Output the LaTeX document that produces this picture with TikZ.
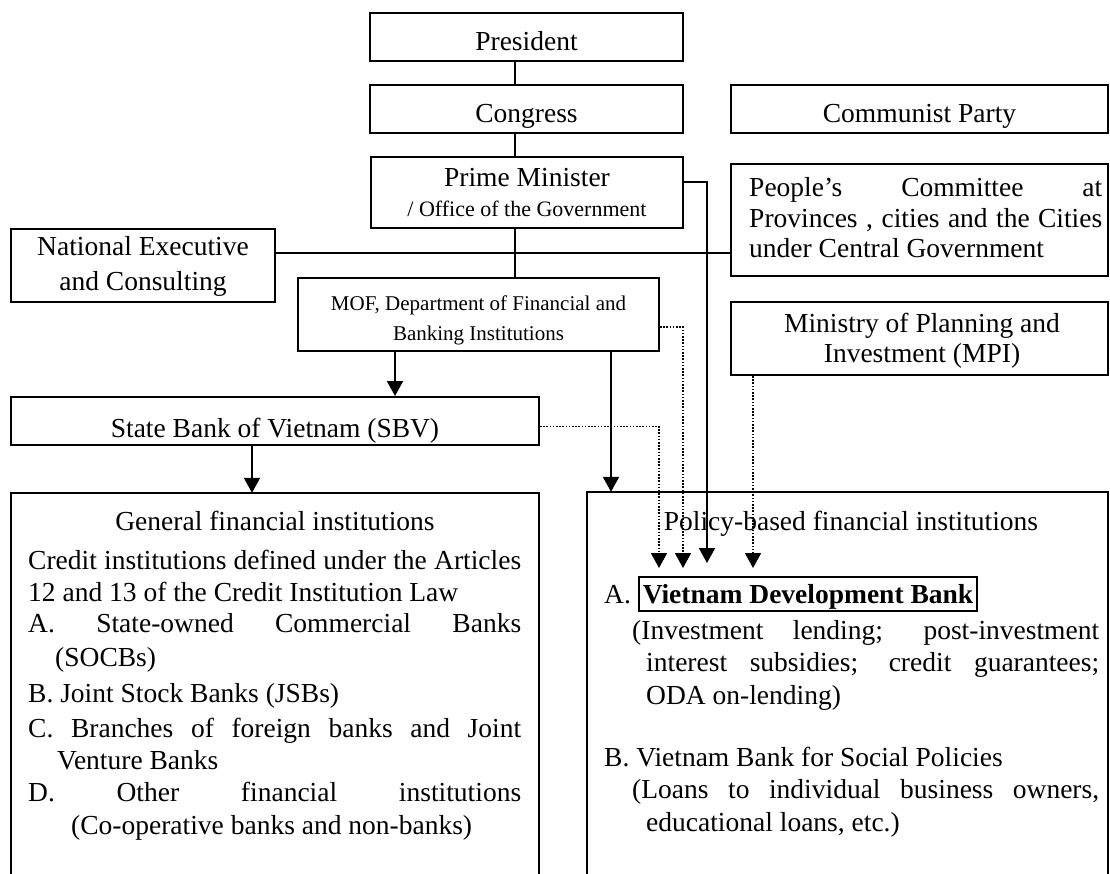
\documentclass[tikz,border=0pt]{standalone}
\usepackage{fontspec}
\setmainfont{Liberation Serif}
\usetikzlibrary{arrows.meta}
\newcommand\fsA{\fontsize{27.5}{33}\selectfont}
\newcommand\fsB{\fontsize{22}{26}\selectfont}
\newcommand\fsC{\fontsize{21}{25}\selectfont}
\tikzset{
  orgbox/.style={draw, line width=2pt, inner sep=0pt, font=\fsA},
  conn/.style={line width=2pt},
  arr/.style={conn, -{Triangle[length=15pt,width=16pt]}},
  dotarr/.style={line width=1.6pt, dash pattern=on 1.6pt off 1.6pt, -{Triangle[length=15pt,width=16pt]}},
  txt/.style={inner sep=0pt, anchor=base west},
  ctxt/.style={inner sep=0pt, anchor=base},
}
\begin{document}
\begin{tikzpicture}[x=1pt,y=-1pt]
\useasboundingbox (0,0) rectangle (1110,874);

% boxes
\node[orgbox, minimum width=313pt, minimum height=48pt, text height=27pt, text depth=0pt] (pres) at (526.5,37) {President};
\node[orgbox, minimum width=313pt, minimum height=48pt, text height=27pt, text depth=0pt] (cong) at (526.5,109) {Congress};
\node[orgbox, minimum width=377pt, minimum height=48pt, text height=27pt, text depth=0pt] (cp) at (919.5,109) {Communist Party};
\node[orgbox, minimum width=312pt, minimum height=71pt] (pm) at (527,192.5) {};
\node[orgbox, minimum width=377pt, minimum height=112pt] (pc) at (919.5,220) {};
\node[orgbox, minimum width=264pt, minimum height=73pt] (ne) at (143,265.5) {};
\node[orgbox, minimum width=361pt, minimum height=73pt] (mof) at (478.5,314.5) {};
\node[orgbox, minimum width=377pt, minimum height=73pt] (mpi) at (919.5,338.5) {};
\node[orgbox, minimum width=528pt, minimum height=48pt, text height=32pt, text depth=0pt] (sbv) at (275,421) {State Bank of Vietnam (SBV)};
\node[inner sep=0pt, minimum width=528pt, minimum height=381pt] (gen) at (275,683.5) {};
\node[inner sep=0pt, minimum width=521pt, minimum height=382pt] (pol) at (847.5,683) {};
\draw[conn] (gen.south west) -- (gen.north west) -- (gen.north east) -- (gen.south east);
\draw[conn] (pol.south west) -- (pol.north west) -- (pol.north east) -- (pol.south east);

% box texts
\node[ctxt] (pmt1) at (527,186.5) {\fsA Prime Minister};
\node[ctxt] (pmt2) at (527,217) {\fsB / Office of the Government};
\node[txt] (pct1) at (749,197) {\fsA\makebox[353pt][s]{People’s Committee at}};
\node[txt] (pct2) at (749,228) {\fsA\makebox[353pt][s]{Provinces , cities and the Cities}};
\node[txt] (pct3) at (749,258) {\fsA under Central Government};
\node[ctxt] (net1) at (143,256) {\fsA National Executive};
\node[ctxt] (net2) at (143,291) {\fsA and Consulting};
\node[ctxt] (moft1) at (478.5,310) {\fsC MOF, Department of Financial and};
\node[ctxt] (moft2) at (478.5,340) {\fsC Banking Institutions};
\node[ctxt] (mpit1) at (922,332) {\fsA Ministry of Planning and};
\node[ctxt] (mpit2) at (922,362) {\fsA Investment (MPI)};

% general financial institutions
\node[ctxt] (gt0) at (275,530) {\fsA General financial institutions};
\node[txt] (gt1) at (28,569) {\fsA\makebox[493pt][s]{Credit institutions defined under the Articles}};
\node[txt] (gt2) at (28,601) {\fsA 12 and 13 of the Credit Institution Law};
\node[txt] (gt3) at (28,632) {\fsA\makebox[493pt][s]{A. State-owned Commercial Banks}};
\node[txt] (gt4) at (55,666) {\fsA (SOCBs)};
\node[txt] (gt5) at (28,702) {\fsA B. Joint Stock Banks (JSBs)};
\node[txt] (gt6) at (28,737) {\fsA\makebox[493pt][s]{C. Branches of foreign banks and Joint}};
\node[txt] (gt7) at (57,769) {\fsA Venture Banks};
\node[txt] (gt8) at (28,801) {\fsA\makebox[493pt][s]{D. Other financial institutions}};
\node[txt] (gt9) at (71,834) {\fsA (Co-operative banks and non-banks)};

% policy-based financial institutions
\node[ctxt] (pt0) at (851,530) {\fsA Policy-based financial institutions};
\node[txt] (pta) at (604,603) {\fsA A.};
\node[orgbox, line width=1.8pt, minimum width=338pt, minimum height=34pt, text height=22pt, text depth=4pt, font=\fsA\bfseries] (vdb) at (808,594) {Vietnam Development Bank};
\node[txt] (pt1) at (632,639) {\fsA\makebox[467pt][s]{(Investment lending; post-investment}};
\node[txt] (pt2) at (646,671) {\fsA\makebox[453pt][s]{interest subsidies; credit guarantees;}};
\node[txt] (pt3) at (646,704) {\fsA ODA on-lending)};
\node[txt] (pt4) at (604,766) {\fsA B. Vietnam Bank for Social Policies};
\node[txt] (pt5) at (632,798) {\fsA\makebox[467pt][s]{(Loans to individual business owners,}};
\node[txt] (pt6) at (646,831) {\fsA educational loans, etc.)};

% connectors
\coordinate (cx) at (515,0);
\draw[conn] (pres.south -| cx) -- (cong.north -| cx);
\draw[conn] (cong.south -| cx) -- (pm.north -| cx);
\draw[conn] (pm.south -| cx) -- (mof.north -| cx);
\coordinate (ly) at (0,253);
\draw[conn] (ne.east |- ly) -- (pc.west |- ly);
\coordinate (pmy) at (0,182);
\coordinate (tipPM) at (707,563);
\draw[arr] (pm.east |- pmy) -| (tipPM);
\coordinate (m1) at (395,0);
\draw[arr] (mof.south -| m1) -- (sbv.north -| m1);
\coordinate (m2) at (611,0);
\draw[arr] (mof.south -| m2) -- (pol.north -| m2);
\coordinate (s1) at (252,0);
\draw[arr] (sbv.south -| s1) -- (gen.north -| s1);
\coordinate (sy) at (0,426.5);
\coordinate (tipS) at (659,568);
\draw[dotarr] (sbv.east |- sy) -| (tipS);
\coordinate (my) at (0,327);
\coordinate (tipM) at (683,568);
\draw[dotarr] (mof.east |- my) -| (tipM);
\coordinate (tipP) at (753,568);
\draw[dotarr] (mpi.south -| tipP) -- (tipP);
\end{tikzpicture}
\end{document}
